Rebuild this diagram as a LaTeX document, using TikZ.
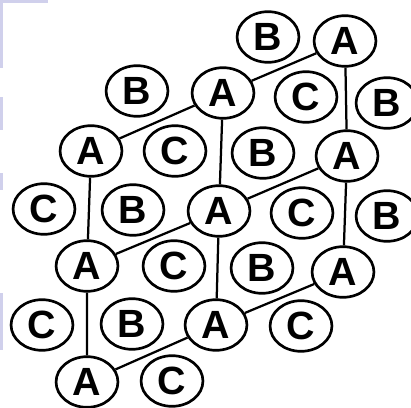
\documentclass[tikz,border=0pt]{standalone}
\usepackage{fontspec}
\setmainfont{Liberation Sans}
\usepackage{tikz}
\usetikzlibrary{shapes.geometric}

\definecolor{slidebg}{RGB}{208,208,236}

\begin{document}
\begin{tikzpicture}[x=0.025cm, y=-0.025cm,
  site/.style={ellipse, draw, line width=1.9pt, minimum width=44pt,
    minimum height=36pt, inner sep=0pt, font=\fontsize{28}{28}\selectfont\bfseries},
  bond/.style={line width=1.6pt}]
  \clip (0,0) rectangle (411,407);
  % slide background at the left edge
  \fill[slidebg] (0,0) rectangle (48,3);
  \fill[slidebg] (0,0) rectangle (3,68);
  \fill[slidebg] (0,97) rectangle (3,130);
  \fill[slidebg] (0,173) rectangle (3,190);
  \fill[slidebg] (0,293) rectangle (3,350);
  % row 1
  \node[site] (b1) at (268,37) {B};
  \node[site] (a1) at (345,41) {A};
  % row 2
  \node[site] (b2) at (137,91) {B};
  \node[site] (a2) at (223,93) {A};
  \node[site] (c1) at (306,97) {C};
  \node[site] (b3) at (387,103) {B};
  % row 3
  \node[site] (a3) at (91,151) {A};
  \node[site] (c2) at (175,151) {C};
  \node[site] (b4) at (263,153) {B};
  \node[site] (a4) at (347,156) {A};
  % row 4
  \node[site] (c3) at (44,209) {C};
  \node[site] (b5) at (133,210) {B};
  \node[site] (a5) at (219,211) {A};
  \node[site] (c4) at (302,213) {C};
  \node[site] (b6) at (387,216) {B};
  % row 5
  \node[site] (a6) at (87,266) {A};
  \node[site] (c5) at (174,266) {C};
  \node[site] (b7) at (262,268) {B};
  \node[site] (a7) at (343,272) {A};
  % row 6
  \node[site] (c6) at (42,325) {C};
  \node[site] (b8) at (132,324) {B};
  \node[site] (a8) at (216,325) {A};
  \node[site] (c7) at (301,326) {C};
  % row 7
  \node[site] (a9) at (87,382) {A};
  \node[site] (c8) at (172,381) {C};
  % vertical bonds
  \draw[bond] (a1) -- (a4) -- (a7);
  \draw[bond] (a2) -- (a5) -- (a8);
  \draw[bond] (a3) -- (a6) -- (a9);
  % slanted bonds
  \draw[bond] (a1) -- (a2) -- (a3);
  \draw[bond] (a4) -- (a5) -- (a6);
  \draw[bond] (a7) -- (a8) -- (a9);
\end{tikzpicture}
\end{document}
